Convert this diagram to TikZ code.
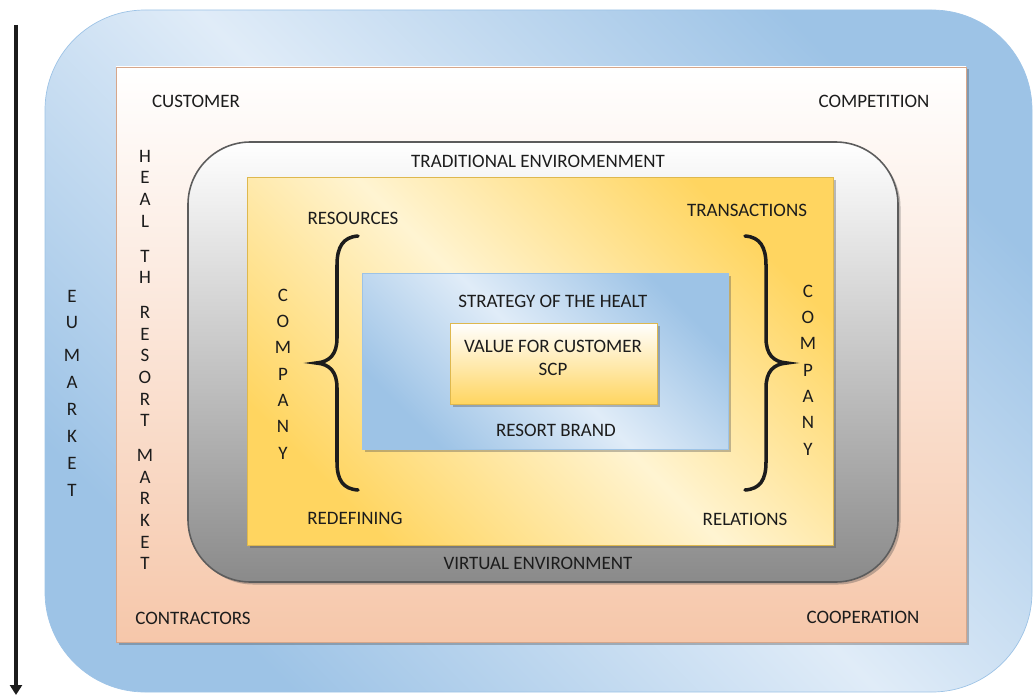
\documentclass[tikz,border=0pt]{standalone}
\usepackage{fontspec}
\setmainfont{Carlito}
\usepackage{tikz}
\usepackage{xcolor}
\usetikzlibrary{shadows,arrows.meta}

\definecolor{marketblue}{RGB}{157,195,230}
\definecolor{marketlight}{RGB}{224,236,248}
\definecolor{peach}{RGB}{246,199,170}
\definecolor{peachline}{RGB}{214,166,138}
\definecolor{envgray}{RGB}{138,138,138}
\definecolor{envline}{RGB}{92,92,92}
\definecolor{gold}{RGB}{255,213,96}
\definecolor{cream}{RGB}{255,244,210}
\definecolor{goldline}{RGB}{222,184,78}
\definecolor{txt}{RGB}{28,28,28}

\tikzset{
  lbl/.style={font=\fontsize{10.8}{13}\selectfont, text=txt, inner sep=0pt, align=center},
  boxshadow/.style={drop shadow={shadow xshift=0.05cm, shadow yshift=-0.05cm, opacity=0.35, fill=black!70}},
  brace/.style={line width=2pt, line cap=round, txt}
}

\begin{document}
\begin{tikzpicture}[x=0.02cm, y=-0.02cm]
        %\draw[gray!30] (0,0) grid[step=50] (1034,696);
        \useasboundingbox (0,0) rectangle (1034,696);

        \coordinate (top) at (16,25);
        \coordinate (bottom) at (16,695);
        \draw[line width=1.8pt, txt, -{Triangle[width=0.24cm, length=0.2cm]}] (top) -- (bottom);

        % markets
        \shadedraw[rounded corners=2cm, draw=marketblue, top color=marketblue, bottom color=marketblue, middle color=marketlight, shading angle=-45] (45,10) rectangle (1032,692);
        \shadedraw[boxshadow, draw=peachline, top color=white, bottom color=peach] (116,67) rectangle (966,642);

        % environments
        \shadedraw[boxshadow, rounded corners=1.25cm, draw=envline, line width=0.9pt, top color=white, bottom color=envgray] (188,142) rectangle (898,582);
        \shadedraw[boxshadow, draw=goldline, top color=gold, bottom color=gold, middle color=cream, shading angle=-45] (247,177) rectangle (833,545);

        % company core
        \shadedraw[boxshadow, draw=marketblue, top color=marketblue, bottom color=marketblue, middle color=marketlight, shading angle=-45] (362,273) rectangle (728,449);
        \shadedraw[boxshadow, draw=goldline, top color=white, bottom color=gold] (450,323) rectangle (657,404);

        \draw[brace] (358,236) .. controls (343,237) and (337,247) .. (337,265) -- (337,338) .. controls (337,354) and (330,362) .. (316,363) .. controls (330,364) and (337,372) .. (337,388) -- (337,462) .. controls (337,480) and (343,489) .. (358,490);
        \draw[brace] (745,236) .. controls (760,237) and (766,247) .. (766,265) -- (766,338) .. controls (766,354) and (773,362) .. (787,363) .. controls (773,364) and (766,372) .. (766,388) -- (766,462) .. controls (766,480) and (760,489) .. (745,490);

        \node[lbl] (customer) at (196,101) {CUSTOMER};
        \node[lbl] (competition) at (874,101) {COMPETITION};
        \node[lbl] (contractors) at (193,618) {CONTRACTORS};
        \node[lbl] (cooperation) at (863,617) {COOPERATION};

        \node[lbl] (traditional) at (538,161) {TRADITIONAL ENVIROMENMENT};
        \node[lbl] (virtual) at (538,563) {VIRTUAL ENVIRONMENT};

        \node[lbl] (resources) at (353,218) {RESOURCES};
        \node[lbl] (transactions) at (747,210) {TRANSACTIONS};
        \node[lbl] (redefining) at (355,518) {REDEFINING};
        \node[lbl] (relations) at (745,519) {RELATIONS};

        \node[lbl] (strategy) at (553,301) {STRATEGY OF THE HEALT};
        \node[lbl, font=\fontsize{10.8}{13.5}\selectfont] (value) at (553,358) {VALUE FOR CUSTOMER\\SCP};
        \node[lbl] (brand) at (556,430) {RESORT BRAND};

        \node[lbl, font=\fontsize{10.8}{15.3}\selectfont] (eumarket) at (72,393) {E\\U\\[3.4pt]M\\A\\R\\K\\E\\T};
        \node[lbl, font=\fontsize{10.8}{12.3}\selectfont] (healthmarket) at (145,360) {H\\E\\A\\L\\[7.6pt]T\\H\\[7.6pt]R\\E\\S\\O\\R\\T\\[7.6pt]M\\A\\R\\K\\E\\T};
        \node[lbl, font=\fontsize{10.8}{15}\selectfont] (companyl) at (283,374) {C\\O\\M\\P\\A\\N\\Y};
        \node[lbl, font=\fontsize{10.8}{15}\selectfont] (companyr) at (808,370) {C\\O\\M\\P\\A\\N\\Y};
    \end{tikzpicture}
\end{document}
